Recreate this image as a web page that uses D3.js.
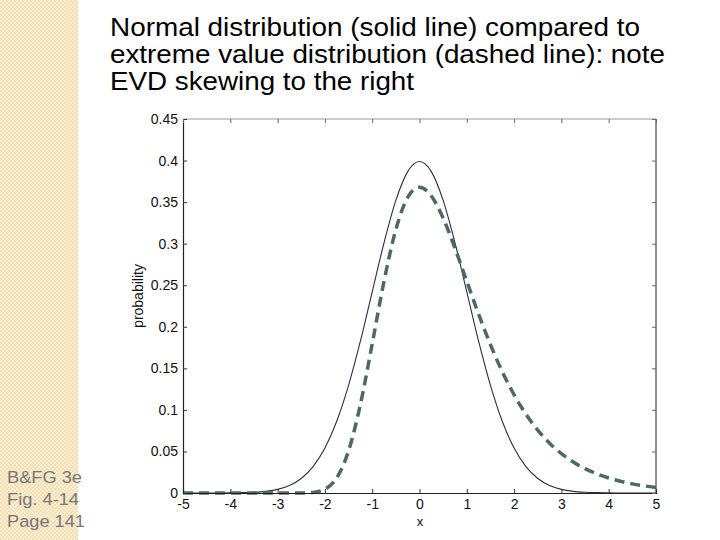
<!DOCTYPE html>
<html><head><meta charset="utf-8">
<script src="https://cdn.jsdelivr.net/npm/d3@7"></script>
<style>html,body{margin:0;padding:0;background:#fff;}svg{display:block;}</style>
</head><body>
<svg id="c" width="720" height="540"></svg>
<script>
const titleLines = ["Normal distribution (solid line) compared to","extreme value distribution (dashed line): note","EVD skewing to the right"];
const sideNote = ["B&FG 3e","Fig. 4-14","Page 141"];
const xs = [-5,-4.75,-4.5,-4.25,-4,-3.75,-3.5,-3.25,-3,-2.75,-2.5,-2.25,-2,-1.75,-1.5,-1.25,-1,-0.75,-0.5,-0.25,0,0.25,0.5,0.75,1,1.25,1.5,1.75,2,2.25,2.5,2.75,3,3.25,3.5,3.75,4,4.25,4.5,4.75,5];
const normalVals = [0,0,0,0,0.0001,0.0004,0.0009,0.0020,0.0044,0.0091,0.0175,0.0317,0.0540,0.0863,0.1295,0.1826,0.2420,0.3011,0.3521,0.3867,0.3989,0.3867,0.3521,0.3011,0.2420,0.1826,0.1295,0.0863,0.0540,0.0317,0.0175,0.0091,0.0044,0.0020,0.0009,0.0004,0.0001,0,0,0,0];
const evdVals = [0,0,0,0,0,0,0,0,0,0,0.00006,0.00072,0.00457,0.0182,0.0507,0.1064,0.1794,0.2549,0.3170,0.3556,0.3679,0.3574,0.3307,0.2945,0.2546,0.2151,0.1785,0.1460,0.1182,0.0949,0.0756,0.0600,0.0474,0.0373,0.0293,0.0230,0.0180,0.0141,0.0110,0.00858,0.00669];
const xTicks = [-5,-4,-3,-2,-1,0,1,2,3,4,5];
const xTickLabels = ["-5","-4","-3","-2","-1","0","1","2","3","4","5"];
const yTicks = [0,0.05,0.1,0.15,0.2,0.25,0.3,0.35,0.4,0.45];
const yTickLabels = ["0","0.05","0.1","0.15","0.2","0.25","0.3","0.35","0.4","0.45"];

const svg = d3.select("#c");
const defs = svg.append("defs");
const pat = defs.append("pattern").attr("id","chk").attr("width",4).attr("height",4).attr("patternUnits","userSpaceOnUse");
pat.append("rect").attr("width",4).attr("height",4).attr("fill","#f2dfb3");
pat.append("rect").attr("width",2).attr("height",2).attr("fill","#faeed2");
pat.append("rect").attr("x",2).attr("y",2).attr("width",2).attr("height",2).attr("fill","#faeed2");
svg.append("rect").attr("x",0).attr("y",0).attr("width",78).attr("height",540).attr("fill","url(#chk)");

const titleW = [530,555,304];
svg.append("g").selectAll("text").data(titleLines).join("text")
  .attr("x",110).attr("y",(d,i)=>36+i*27)
  .attr("font-family","Arial, 'Liberation Sans', sans-serif").attr("font-size",25).attr("fill","#000")
  .attr("textLength",(d,i)=>titleW[i]).attr("lengthAdjust","spacingAndGlyphs")
  .text(d=>d);

const noteW = [75,72,78];
svg.append("g").selectAll("text").data(sideNote).join("text")
  .attr("x",7).attr("y",(d,i)=>483+i*22)
  .attr("font-family","Arial, 'Liberation Sans', sans-serif").attr("font-size",16).attr("fill","#777")
  .attr("textLength",(d,i)=>noteW[i]).attr("lengthAdjust","spacingAndGlyphs")
  .text(d=>d);

const L=183,R=656,T=119,B=493;
const x = d3.scaleLinear().domain([-5,5]).range([L,R]);
const y = d3.scaleLinear().domain([0,0.45]).range([B,T]);
const font = "Helvetica, Arial, 'Liberation Sans', sans-serif";

svg.append("line").attr("x1",L).attr("x2",R).attr("y1",T).attr("y2",T).attr("stroke","#999");
svg.append("line").attr("x1",R).attr("x2",R).attr("y1",T).attr("y2",B).attr("stroke","#222");

const pts1 = xs.map((v,i)=>[v,normalVals[i]]);
const pts2 = xs.map((v,i)=>[v,evdVals[i]]);
const line = d3.line().x(d=>x(d[0])).y(d=>y(d[1])).curve(d3.curveMonotoneX);
svg.append("path").attr("d",line(pts1)).attr("fill","none").attr("stroke","#2b2b55").attr("stroke-width",1.1);
svg.append("path").attr("d",line(pts2)).attr("fill","none").attr("stroke","#4b6b5e").attr("stroke-width",3.5).attr("stroke-dasharray","10,6");

const xAx = svg.append("g").attr("transform",`translate(0,${B})`)
  .call(d3.axisBottom(x).tickValues(xTicks).tickSize(-4).tickPadding(6).tickFormat((d,i)=>xTickLabels[i]));
const yAx = svg.append("g").attr("transform",`translate(${L},0)`)
  .call(d3.axisLeft(y).tickValues(yTicks).tickSize(-4).tickPadding(5).tickFormat((d,i)=>yTickLabels[i]));
const xTop = svg.append("g").attr("transform",`translate(0,${T})`)
  .call(d3.axisTop(x).tickValues(xTicks).tickSize(-4).tickFormat(""));
const yRight = svg.append("g").attr("transform",`translate(${R},0)`)
  .call(d3.axisRight(y).tickValues(yTicks).tickSize(-4).tickFormat(""));
[xAx,yAx].forEach(g=>{
  g.attr("font-size",14).attr("font-family",font);
  g.select(".domain").attr("stroke","#222").attr("stroke-width",1.2);
  g.selectAll(".tick line").attr("stroke","#333");
  g.selectAll("text").attr("font-family",font).attr("font-size",14).attr("fill","#111");
});
[xTop,yRight].forEach(g=>{
  g.select(".domain").remove();
  g.selectAll(".tick line").attr("stroke","#666");
});

svg.append("text").attr("transform","translate(143,296) rotate(-90)").attr("text-anchor","middle")
  .attr("font-family",font).attr("font-size",14).attr("fill","#111").text("probability");
svg.append("text").attr("x",420).attr("y",526).attr("text-anchor","middle")
  .attr("font-family",font).attr("font-size",13).attr("fill","#111").text("x");
</script>
</body></html>
